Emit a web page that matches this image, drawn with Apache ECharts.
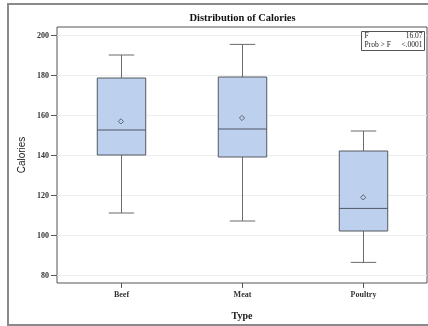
<!DOCTYPE html>
<html>
<head>
<meta charset="utf-8">
<script src="https://cdn.jsdelivr.net/npm/echarts@6/dist/echarts.min.js"></script>
<style>
  html, body { margin: 0; padding: 0; background: #fff; }
  #chart { width: 428px; height: 326px; }
</style>
</head>
<body>
<div id="chart"></div>
<script>
// Calories by meat type: five-number summaries and group means
const categories = ['Beef', 'Meat', 'Poultry'];
const whiskerLow = [111, 107, 86.3];
const quartile1 = [140, 139, 102];
const medians = [152.5, 153, 113.3];
const quartile3 = [178.5, 179, 142];
const whiskerHigh = [190, 195.3, 152];
const means = [156.8, 158.5, 118.8];
const yTicks = [80, 100, 120, 140, 160, 180, 200];
const statLabels = ['F', 'Prob > F'];
const statValues = ['16.07', '<.0001'];

const serif = '"Liberation Serif", "DejaVu Serif", serif';
const boxData = categories.map((c, i) =>
  [i, whiskerLow[i], quartile1[i], medians[i], quartile3[i], whiskerHigh[i], means[i]]);

const chart = echarts.init(document.getElementById('chart'), null, { renderer: 'canvas' });

function renderBox(params, api) {
  const x = api.value(0);
  const pLo = api.coord([x, api.value(1)]);
  const pQ1 = api.coord([x, api.value(2)]);
  const pMed = api.coord([x, api.value(3)]);
  const pQ3 = api.coord([x, api.value(4)]);
  const pHi = api.coord([x, api.value(5)]);
  const pMean = api.coord([x, api.value(6)]);
  const band = api.size([1, 0])[0];
  const halfBox = band * 0.2;
  const halfCap = band * 0.105;
  const cx = Math.round(pQ1[0]) + 0.5;
  const lineStyle = { stroke: '#6b6b6b', lineWidth: 1, fill: null };
  const d = 2.6;
  return {
    type: 'group',
    children: [
      { type: 'line', shape: { x1: cx, y1: pQ3[1], x2: cx, y2: pHi[1] }, style: lineStyle },
      { type: 'line', shape: { x1: cx, y1: pQ1[1], x2: cx, y2: pLo[1] }, style: lineStyle },
      { type: 'line', shape: { x1: cx - halfCap, y1: pHi[1], x2: cx + halfCap, y2: pHi[1] }, style: lineStyle },
      { type: 'line', shape: { x1: cx - halfCap, y1: pLo[1], x2: cx + halfCap, y2: pLo[1] }, style: lineStyle },
      { type: 'rect', shape: { x: cx - halfBox, y: pQ3[1], width: halfBox * 2, height: pQ1[1] - pQ3[1] },
        style: { fill: '#bdd0ee', stroke: '#55595f', lineWidth: 1 } },
      { type: 'line', shape: { x1: cx - halfBox, y1: pMed[1], x2: cx + halfBox, y2: pMed[1] },
        style: { stroke: '#4d5566', lineWidth: 1 } },
      { type: 'polygon', shape: { points: [[pMean[0], pMean[1] - d], [pMean[0] + d, pMean[1]], [pMean[0], pMean[1] + d], [pMean[0] - d, pMean[1]]] },
        style: { fill: null, stroke: '#5c6270', lineWidth: 1 } }
    ]
  };
}

chart.setOption({
  animation: false,
  backgroundColor: '#fff',
  grid: { left: 57, right: 1, top: 27, bottom: 43, show: true, borderColor: '#555', borderWidth: 1, backgroundColor: '#fff' },
  xAxis: {
    type: 'value', min: -0.527, max: 2.527,
    name: 'Type', nameLocation: 'middle', nameGap: 28,
    nameTextStyle: { fontFamily: serif, fontSize: 10, fontWeight: 'bold', color: '#222' },
    axisLine: { show: false }, splitLine: { show: false },
    axisTick: { show: false }, axisLabel: { show: false }
  },
  yAxis: {
    type: 'value', min: 76, max: 204, interval: 20,
    name: 'Calories', nameLocation: 'middle', nameGap: 30,
    nameTextStyle: { fontFamily: '"Liberation Sans", Arial, sans-serif', fontSize: 10, color: '#222' },
    axisLine: { show: false },
    axisTick: { show: false }, axisLabel: { show: false },
    splitLine: { show: false }
  },
  graphic: [
    { type: 'rect', shape: { x: 8, y: 4, width: 430, height: 321 }, style: { fill: null, stroke: '#8a8a8a', lineWidth: 2 }, z: -10 },
    { type: 'text', x: 242.5, y: 18, style: { text: 'Distribution of Calories', align: 'center', verticalAlign: 'middle', font: 'bold 10.5px ' + serif, fill: '#111' }, z: 20 }
  ],
  series: [
    {
      type: 'custom', renderItem: renderBox, data: boxData,
      encode: { x: 0, y: [1, 2, 3, 4, 5, 6] }, z: 5
    },
    // gridlines, y ticks and labels drawn from yTicks
    {
      type: 'custom',
      data: yTicks.map(v => [v]),
      encode: { y: 0 },
      renderItem: function (params, api) {
        const v = api.value(0);
        const p = api.coord([-0.527, v]);
        const pr = api.coord([2.527, v]);
        const y = Math.round(p[1]) + 0.5;
        return {
          type: 'group', children: [
            { type: 'line', shape: { x1: p[0], y1: y, x2: pr[0], y2: y }, style: { stroke: '#eeeeee', lineWidth: 1 }, z2: -1 },
            { type: 'line', shape: { x1: p[0] - 6, y1: y, x2: p[0], y2: y }, style: { stroke: '#555', lineWidth: 1 } },
            { type: 'text', x: p[0] - 8, y: y, style: { text: String(v), align: 'right', verticalAlign: 'middle', font: 'bold 8px ' + serif, fill: '#333' } }
          ]
        };
      }, z: 1
    },
    // category ticks and labels
    {
      type: 'custom',
      data: categories.map((c, i) => [i, c]),
      encode: { x: 0 },
      renderItem: function (params, api) {
        const i = api.value(0);
        const p = api.coord([i, 76]);
        const x = Math.round(p[0]) + 0.5;
        return {
          type: 'group', children: [
            { type: 'line', shape: { x1: x, y1: p[1], x2: x, y2: p[1] + 5 }, style: { stroke: '#555', lineWidth: 1 } },
            { type: 'text', x: x, y: p[1] + 12, style: { text: categories[i], align: 'center', verticalAlign: 'middle', font: 'bold 8px ' + serif, fill: '#333' } }
          ]
        };
      }, z: 1
    },
    // F statistic inset
    {
      type: 'custom',
      data: [[0]],
      encode: { x: 0 },
      renderItem: function (params, api) {
        const tl = api.coord([2.527, 204]);
        const right = tl[0] - 2.5;
        const top = tl[1] + 4.5;
        const w = 63, h = 19;
        const left = right - w;
        const font = '7.5px ' + serif;
        return {
          type: 'group', children: [
            { type: 'rect', shape: { x: left, y: top, width: w, height: h }, style: { fill: '#fff', stroke: '#555', lineWidth: 1 } },
            { type: 'text', x: left + 3, y: top + 5, style: { text: statLabels[0], align: 'left', verticalAlign: 'middle', font: font, fill: '#222' } },
            { type: 'text', x: right - 2, y: top + 5, style: { text: statValues[0], align: 'right', verticalAlign: 'middle', font: font, fill: '#222' } },
            { type: 'text', x: left + 3, y: top + 14, style: { text: statLabels[1], align: 'left', verticalAlign: 'middle', font: font, fill: '#222' } },
            { type: 'text', x: right - 2, y: top + 14, style: { text: statValues[1], align: 'right', verticalAlign: 'middle', font: font, fill: '#222' } }
          ]
        };
      }, z: 10
    }
  ]
});
</script>
</body>
</html>
